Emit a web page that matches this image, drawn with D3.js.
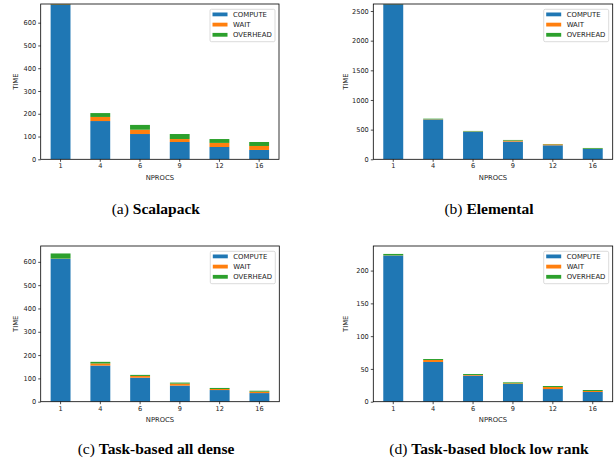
<!DOCTYPE html>
<html><head><meta charset="utf-8">
<script src="https://cdn.jsdelivr.net/npm/d3@7"></script>
<style>body{margin:0;background:#fff}svg{display:block}</style>
</head><body>
<svg id="c" width="616" height="462"></svg>
<script>
const nprocs = ["1","4","6","9","12","16"];
const seriesNames = ["COMPUTE","WAIT","OVERHEAD"];
const colors = ["#1f77b4","#ff7f0e","#2ca02c"];

const scalapackCompute = [679,168,111,76,54,41];
const scalapackWait = [2,18,19,13,18,17.5];
const scalapackOverhead = [15,17,21,22,17,17.5];

const elementalCompute = [2612,670,465,298,236,174];
const elementalWait = [3,5,5,17,17,4];
const elementalOverhead = [10,10,8,11,5,13];

const denseCompute = [613,155,103,69,50,37];
const denseWait = [1,9,7.5,8.5,4.5,6];
const denseOverhead = [22,7,4.5,4.5,4.5,4];

const lowrankCompute = [222.9,60.6,39.7,27,19.3,14.8];
const lowrankWait = [0.3,3,1,1,3.1,1.5];
const lowrankOverhead = [2.2,1.5,1.5,1.5,1.5,1.5];

const ticksA = [0,100,200,300,400,500,600];
const ticksB = [0,500,1000,1500,2000,2500];
const ticksC = [0,100,200,300,400,500,600];
const ticksD = [0,50,100,150,200];

const panels = [
  {c:scalapackCompute,w:scalapackWait,o:scalapackOverhead,ymax:682,ticks:ticksA,
   box:[40.7,4,279,159.3],cap:"Scalapack",letter:"(a) ",capY:214},
  {c:elementalCompute,w:elementalWait,o:elementalOverhead,ymax:2618,ticks:ticksB,
   box:[373.3,4,612.7,159.3],cap:"Elemental",letter:"(b) ",capY:214},
  {c:denseCompute,w:denseWait,o:denseOverhead,ymax:668,ticks:ticksC,
   box:[40.7,246,279.3,401.7],cap:"Task-based all dense",letter:"(c) ",capY:454},
  {c:lowrankCompute,w:lowrankWait,o:lowrankOverhead,ymax:237.5,ticks:ticksD,
   box:[373.3,246,612.7,401.7],cap:"Task-based block low rank",letter:"(d) ",capY:454}
];

const svg = d3.select("#c");
const sans = "DejaVu Sans, sans-serif";
const txt = "#222";

panels.forEach((p,pi)=>{
  const [x0,y0,x1,y1] = p.box;
  const g = svg.append("g");
  const x = d3.scaleBand().domain(nprocs).range([x0,x1]).paddingInner(0.5).paddingOuter(0.25);
  const y = d3.scaleLinear().domain([0,p.ymax]).range([y1,y0]);
  const rows = nprocs.map((n,i)=>({n, COMPUTE:p.c[i], WAIT:p.w[i], OVERHEAD:p.o[i]}));
  const stacked = d3.stack().keys(seriesNames)(rows);
  const clipId = "clip"+pi;
  svg.append("clipPath").attr("id",clipId).append("rect")
    .attr("x",x0).attr("y",y0).attr("width",x1-x0).attr("height",y1-y0);
  const bars = g.append("g").attr("clip-path",`url(#${clipId})`);
  stacked.forEach((s,si)=>{
    bars.selectAll(null).data(s).join("rect")
      .attr("x",d=>x(d.data.n)).attr("width",x.bandwidth())
      .attr("y",d=>y(d[1])).attr("height",d=>y(d[0])-y(d[1]))
      .attr("fill",colors[si]);
  });
  const ax = g.append("g").attr("transform",`translate(0,${y1})`)
    .call(d3.axisBottom(x).tickSize(2.5).tickPadding(2).tickSizeOuter(0));
  const ay = g.append("g").attr("transform",`translate(${x0},0)`)
    .call(d3.axisLeft(y).tickValues(p.ticks).tickFormat(d3.format("d")).tickSize(2.5).tickPadding(2).tickSizeOuter(0));
  [ax,ay].forEach(a=>{
    a.select(".domain").remove();
    a.selectAll("line").attr("stroke","#000").attr("stroke-width",0.7);
    a.selectAll("text").attr("font-family",sans).attr("font-size",6.6).attr("fill",txt);
  });
  g.append("rect").attr("x",x0).attr("y",y0).attr("width",x1-x0).attr("height",y1-y0)
    .attr("fill","none").attr("stroke","#000").attr("stroke-width",0.8);
  g.append("text").attr("x",(x0+x1)/2).attr("y",y1+20.5).attr("text-anchor","middle")
    .attr("font-family",sans).attr("font-size",6.8).attr("fill",txt).text("NPROCS");
  const lx = pi%2===0 ? 18 : 347.5;
  g.append("text").attr("transform",`translate(${lx},${(y0+y1)/2}) rotate(-90)`)
    .attr("text-anchor","middle").attr("font-family",sans).attr("font-size",6.8)
    .attr("fill",txt).text("TIME");
  const lgW = 65, lgH = 32.4;
  const lgX = x1 - 4 - lgW, lgY = y0 + 5.3;
  const lg = g.append("g");
  lg.append("rect").attr("x",lgX).attr("y",lgY).attr("width",lgW).attr("height",lgH)
    .attr("rx",1.5).attr("fill","#fff").attr("fill-opacity",0.8)
    .attr("stroke","#ccc").attr("stroke-width",0.7);
  seriesNames.forEach((s,si)=>{
    const cy = lgY + 5.1 + si*10.2;
    lg.append("rect").attr("x",lgX+2.5).attr("y",cy-1.9).attr("width",15).attr("height",3.8)
      .attr("fill",colors[si]);
    lg.append("text").attr("x",lgX+23).attr("y",cy+2.4).attr("font-family",sans)
      .attr("font-size",6.9).attr("fill",txt).text(s);
  });
  const cap = svg.append("text").attr("x",(x0+x1)/2 - 4).attr("y",p.capY).attr("text-anchor","middle")
    .attr("font-family","Liberation Serif, serif").attr("font-size",15.5).attr("fill","#000");
  cap.append("tspan").text(p.letter);
  cap.append("tspan").attr("font-weight","bold").text(p.cap);
});
</script>
</body></html>
